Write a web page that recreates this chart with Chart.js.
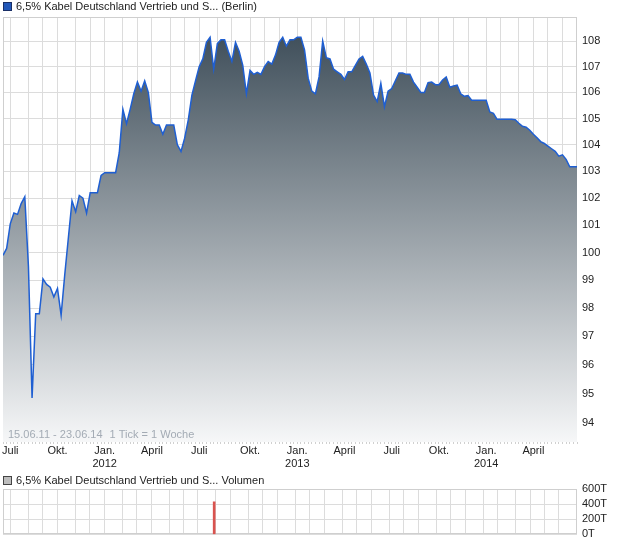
<!DOCTYPE html>
<html>
<head>
<meta charset="utf-8">
<script src="https://cdn.jsdelivr.net/npm/chart.js@4/dist/chart.umd.min.js"></script>
<style>
  body { margin: 0; background: #fff; font-family: 'Liberation Sans', Arial, sans-serif; }
  #wrap { position: relative; width: 620px; height: 546px; overflow: hidden; }
  .box { position: absolute; left: 0; }
  #priceBox { top: 0; }
  #volBox { top: 470px; }
  canvas { display: block; }
  .legend { position: absolute; left: 3px; font-size: 11px; color: #222; white-space: nowrap; z-index: 2; }
  .legend i { display: inline-block; width: 7px; height: 7px; border: 1px solid #333; margin-right: 4px; vertical-align: -1px; }
</style>
</head>
<body>
<div id="wrap">
  <div id="priceBox" class="box"><canvas id="priceChart" width="620" height="472"></canvas></div>
  <div id="volBox" class="box"><canvas id="volChart" width="620" height="76"></canvas></div>
  <div class="legend" style="top:0px"><i style="background:#2257b8;border-color:#1a2f66"></i>6,5% Kabel Deutschland Vertrieb und S... (Berlin)</div>
  <div class="legend" style="top:474px"><i style="background:#bdbdbd;border-color:#444"></i>6,5% Kabel Deutschland Vertrieb und S... Volumen</div>
</div>
<script>
// weekly closing prices, 15.06.11 - 23.06.14
const prices = [
  99.9, 100.15, 101.05, 101.45, 101.4, 101.8, 102.05, 99.5, 94.85, 97.8,
  97.8, 99.05, 98.85, 98.75, 98.4, 98.7, 97.75, 99.2, 100.55, 101.9,
  101.5, 102.1, 102.0, 101.45, 102.2, 102.2, 102.2, 102.85, 102.95, 102.95,
  102.95, 102.95, 103.7, 105.35, 104.8, 105.35, 105.95, 106.4, 106.05, 106.45,
  106.0, 104.85, 104.75, 104.75, 104.4, 104.75, 104.75, 104.75, 104.0, 103.75,
  104.25, 104.95, 105.9, 106.45, 107.0, 107.3, 107.95, 108.15, 106.9, 107.9,
  108.05, 108.05, 107.6, 107.2, 107.95, 107.6, 107.05, 105.95, 106.85, 106.7,
  106.78, 106.7, 107.0, 107.2, 107.1, 107.45, 107.95, 108.15, 107.8, 108.05,
  108.05, 108.15, 108.15, 107.65, 106.55, 106.05, 105.95, 106.6, 108.0, 107.35,
  107.3, 106.9, 106.8, 106.7, 106.5, 106.8, 106.8, 107.05, 107.3, 107.4,
  107.1, 106.75, 105.9, 105.65, 106.35, 105.45, 106.05, 106.15, 106.45, 106.75,
  106.75, 106.7, 106.7, 106.4, 106.2, 106.0, 106.0, 106.38, 106.4, 106.3,
  106.3, 106.48, 106.6, 106.2, 106.25, 106.28, 105.95, 105.85, 105.88, 105.7,
  105.7, 105.7, 105.7, 105.7, 105.25, 105.2, 104.97, 104.97, 104.97, 104.97,
  104.97, 104.95, 104.82, 104.7, 104.67, 104.55, 104.4, 104.27, 104.12, 104.05,
  103.95, 103.85, 103.75, 103.57, 103.62, 103.45, 103.17, 103.17, 103.17
];

// weeks with traded volume
const volumeWeeks = [58];
const volumeValues = [430000];

// week index of the first week of each month (grid lines)
const monthWeeks = [2, 7, 11, 15, 20, 24, 28, 33, 37, 41, 46, 50, 54, 59, 63, 68, 72, 76,
  81, 85, 89, 94, 98, 102, 107, 111, 115, 120, 124, 128, 133, 137, 142, 146, 150, 154];

// labelled months
const labelWeeks = [2, 15, 28, 41, 54, 68, 81, 94, 107, 120, 133, 146];
const labelTexts = ['Juli', 'Okt.', ['Jan.', '2012'], 'April', 'Juli', 'Okt.', ['Jan.', '2013'],
  'April', 'Juli', 'Okt.', ['Jan.', '2014'], 'April'];

const priceTicks = [94, 95, 96, 97, 98, 99, 100, 101, 102, 103, 104, 105, 106, 107, 108];
const volumeTicks = [0, 200000, 400000, 600000];

const rangeText = '15.06.11 - 23.06.14';
const tickText = '1 Tick = 1 Woche';

document.addEventListener('DOMContentLoaded', () => {
    const $ = id => document.getElementById(id);

    Chart.defaults.font.family = "'Liberation Sans', Arial, sans-serif";
    Chart.defaults.font.size = 11;
    Chart.defaults.color = '#222';

    const lastWeek = prices.length - 1;
    const gridCol = '#dcdcdc';

    const frame = {
        id: 'frame',
        beforeDatasetsDraw(chart) {
            const { ctx, chartArea: a } = chart;
            ctx.save();
            ctx.strokeStyle = '#cfcfcf';
            ctx.lineWidth = 1;
            ctx.strokeRect(Math.round(a.left) + 0.5, Math.round(a.top) + 0.5,
                Math.round(a.right - a.left) - 1, Math.round(a.bottom - a.top) - 1);
            ctx.restore();
        }
    };

    const footNote = {
        id: 'footNote',
        afterDatasetsDraw(chart) {
            const { ctx, chartArea: a } = chart;
            ctx.save();
            ctx.font = "11px 'Liberation Sans', Arial, sans-serif";
            ctx.fillStyle = '#a3abb4';
            ctx.textBaseline = 'alphabetic';
            const x = a.left + 5, y = a.bottom - 4;
            ctx.fillText(rangeText, x, y);
            ctx.fillText(tickText, x + ctx.measureText(rangeText).width + 7, y);
            ctx.restore();
        }
    };

    const weekAxis = (showLabels) => ({
        type: 'linear',
        min: 0,
        max: lastWeek,
        afterBuildTicks: axis => { axis.ticks = prices.map((p, i) => ({ value: i })); },
        afterFit: axis => { axis.height = showLabels ? 30 : 10; },
        grid: {
            color: c => monthWeeks.includes(c.tick && c.tick.value) ? gridCol : 'rgba(0,0,0,0)',
            tickColor: showLabels ? '#d0d0d0' : 'rgba(0,0,0,0)',
            tickLength: 2
        },
        border: { display: false },
        ticks: {
            display: showLabels,
            autoSkip: false,
            maxRotation: 0,
            padding: 1,
            font: { lineHeight: 1.15 },
            callback: v => {
                const k = labelWeeks.indexOf(v);
                return k >= 0 ? labelTexts[k] : '';
            }
        }
    });

    new Chart($('priceChart').getContext('2d'), {
        type: 'line',
        data: {
            datasets: [{
                label: '6,5% Kabel Deutschland Vertrieb und S... (Berlin)',
                data: prices.map((v, i) => ({ x: i, y: v })),
                borderColor: '#1f5fd2',
                borderWidth: 1.5,
                pointRadius: 0,
                tension: 0,
                fill: 'start',
                backgroundColor: c => {
                    const a = c.chart.chartArea;
                    if (!a) return '#999';
                    const g = c.chart.ctx.createLinearGradient(0, a.top, 0, a.bottom);
                    g.addColorStop(0, '#384854');
                    g.addColorStop(1, '#f6f7f8');
                    return g;
                }
            }]
        },
        options: {
            responsive: false,
            animation: false,
            layout: { padding: { top: 17, left: 3, right: 0, bottom: 0 } },
            plugins: { legend: { display: false }, tooltip: { enabled: false } },
            scales: {
                x: weekAxis(true),
                y: {
                    type: 'logarithmic',
                    position: 'right',
                    min: 93.34,
                    max: 108.95,
                    afterBuildTicks: axis => { axis.ticks = priceTicks.map(v => ({ value: v })); },
                    afterFit: axis => { axis.width = 43; },
                    grid: { color: gridCol, drawTicks: false },
                    border: { display: false },
                    ticks: { padding: 5, callback: v => String(v) }
                }
            }
        },
        plugins: [frame, footNote]
    });

    new Chart($('volChart').getContext('2d'), {
        type: 'bar',
        data: {
            datasets: [{
                label: '6,5% Kabel Deutschland Vertrieb und S... Volumen',
                data: volumeWeeks.map((w, k) => ({ x: w, y: volumeValues[k] })),
                backgroundColor: '#d9534f',
                barThickness: 2
            }]
        },
        options: {
            responsive: false,
            animation: false,
            layout: { padding: { top: 19, left: 3, right: 0, bottom: 0 } },
            plugins: { legend: { display: false }, tooltip: { enabled: false } },
            scales: {
                x: weekAxis(false),
                y: {
                    position: 'right',
                    min: 0,
                    max: 600000,
                    afterBuildTicks: axis => { axis.ticks = volumeTicks.map(v => ({ value: v })); },
                    afterFit: axis => { axis.width = 43; },
                    grid: { color: gridCol, drawTicks: false },
                    border: { display: false },
                    ticks: { padding: 5, callback: v => (v / 1000) + 'T' }
                }
            }
        },
        plugins: [frame]
    });
});
</script>
</body>
</html>
